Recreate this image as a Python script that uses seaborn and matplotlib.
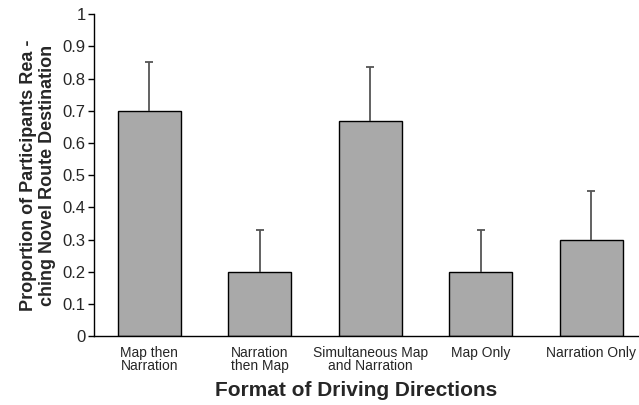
import numpy as np
import pandas as pd
import matplotlib
matplotlib.use("Agg")
import matplotlib.pyplot as plt
from matplotlib import font_manager
import seaborn as sns

categories = [
    "Map then\nNarration",
    "Narration\nthen Map",
    "Simultaneous Map\nand Narration",
    "Map Only",
    "Narration Only",
]
proportions = [0.70, 0.20, 0.667, 0.20, 0.30]
upper_err = [0.15, 0.13, 0.168, 0.13, 0.15]
y_ticks = [0, 0.1, 0.2, 0.3, 0.4, 0.5, 0.6, 0.7, 0.8, 0.9, 1]
y_labels = ["0", "0.1", "0.2", "0.3", "0.4", "0.5", "0.6", "0.7", "0.8", "0.9", "1"]

sns.set_style("white")
plt.rcParams["font.family"] = ["Liberation Sans", "DejaVu Sans"]

# the y label in the original is a condensed bold face
names = {f.name for f in font_manager.fontManager.ttflist}
if "Liberation Sans Narrow" in names:
    ylab_font, ylab_size = "Liberation Sans Narrow", 15.5
else:
    ylab_font, ylab_size = "Liberation Sans", 13

df = pd.DataFrame({"format": categories, "prop": proportions})

fig = plt.figure(figsize=(6.39, 4.05), dpi=100)
# plot area runs past the right edge of the image, as in the original
ax = fig.add_axes([0.147, 0.170, 0.865, 0.795])

sns.barplot(
    data=df, x="format", y="prop", ax=ax,
    color="#a9a9a9", saturation=1, width=0.57,
    edgecolor="black", linewidth=1, errorbar=None,
)

x = np.arange(len(categories))
eb = ax.errorbar(
    x, proportions, yerr=[np.zeros(len(x)), upper_err],
    fmt="none", ecolor="#555555", elinewidth=1.3, capsize=3, capthick=1.3,
)
eb[1][0].set_visible(False)  # no cap at the bar top

ax.set_xlim(-0.5, len(categories) - 0.5)
ax.set_ylim(0, 1)
ax.set_yticks(y_ticks, y_labels, fontsize=12)
ax.set_xticks(x, categories, fontsize=10, linespacing=0.9)
ax.set_xticks(np.arange(len(categories) + 1) - 0.5, minor=True)
ax.tick_params(axis="x", which="major", length=0, pad=7)
ax.tick_params(axis="x", which="minor", length=5, width=1, direction="out", color="black")
ax.tick_params(axis="y", length=4, width=1, direction="out", color="black", left=True, pad=2)

for side in ["top", "right"]:
    ax.spines[side].set_visible(False)
for side in ["left", "bottom"]:
    ax.spines[side].set_color("black")
    ax.spines[side].set_linewidth(1)

ax.set_xlabel("Format of Driving Directions", fontsize=15, fontweight="bold")
ax.xaxis.set_label_coords(0.475, -0.14)
ax.set_ylabel("Proportion of Participants Rea -\nching Novel Route Destination",
              fontsize=ylab_size, fontweight="bold", family=ylab_font, linespacing=1.2)
ax.yaxis.set_label_coords(-0.068, 0.5)

fig.savefig("out.png", dpi=100)
